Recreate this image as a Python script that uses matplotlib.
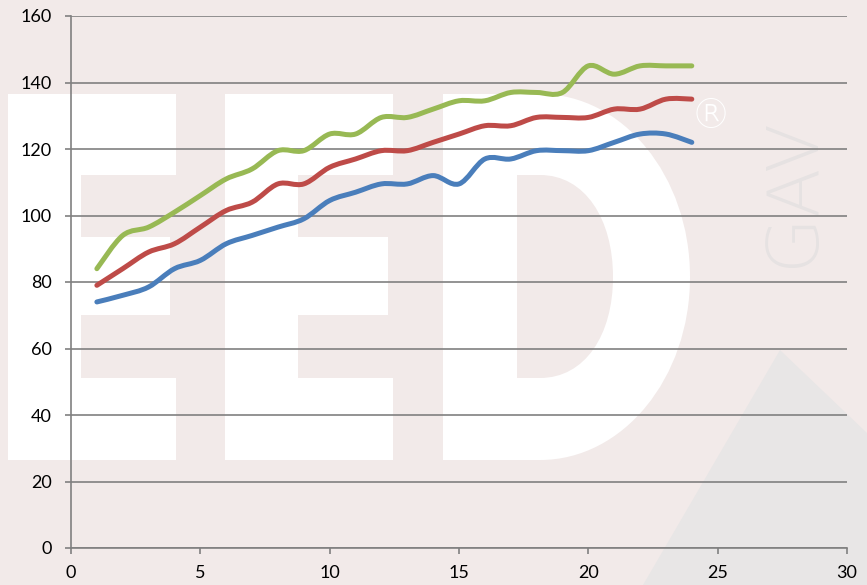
import numpy as np
import matplotlib
matplotlib.use("Agg")
import matplotlib.pyplot as plt
from matplotlib.path import Path
from matplotlib.patches import PathPatch, Rectangle, Polygon

# ---------------- data ----------------
x_vals = list(range(1, 25))
blue_vals = [74, 76, 78.5, 84, 86.5, 91.5, 94, 96.5, 99, 104.5, 107, 109.5,
             109.5, 112, 109.5, 117, 117, 119.5, 119.5, 119.5, 122, 124.5, 124.5, 122]
red_vals = [79, 84, 89, 91.5, 96.5, 101.5, 104, 109.5, 109.5, 114.5, 117, 119.5,
            119.5, 122, 124.5, 127, 127, 129.5, 129.5, 129.5, 132, 132, 135, 135]
green_vals = [84, 94, 96.5, 101, 106, 111, 114, 119.5, 119.5, 124.5, 124.5, 129.5,
              129.5, 132, 134.5, 134.5, 137, 137, 137, 145, 142.5, 145, 145, 145]
x_ticks = [0, 5, 10, 15, 20, 25, 30]
y_ticks = [0, 20, 40, 60, 80, 100, 120, 140, 160]

BG = "#F2EAE9"
W, H = 867, 585

fig = plt.figure(figsize=(W / 100, H / 100), dpi=100)
fig.patch.set_facecolor(BG)


def P(px, py):
    return (px / W, 1 - py / H)


# ---------------- watermark (decoration) ----------------
fig.patches.append(Polygon([P(780, 350), P(643, 585), P(867, 585), P(867, 433)],
                           closed=True, transform=fig.transFigure, facecolor="#E8E6E6",
                           edgecolor="none", zorder=-3))


def rect(x0, y0, x1, y1):
    (a, b), (c, d) = P(x0, y1), P(x1, y0)
    fig.patches.append(Rectangle((a, b), c - a, d - b, transform=fig.transFigure,
                                 facecolor="white", edgecolor="none", zorder=-2))


def letter_e(x0, stem, top_r, mid_r):
    rect(x0, 94, stem, 460)
    rect(x0, 94, top_r, 175)
    rect(x0, 237, mid_r, 315)
    rect(x0, 378, top_r, 460)


letter_e(8, 81, 176, 170)
letter_e(225, 298, 393, 388)

verts = [P(443, 94), P(540, 94), P(623, 94), P(690, 176), P(690, 277),
         P(690, 378), P(623, 460), P(540, 460), P(443, 460), P(443, 94),
         P(517, 175), P(517, 378), P(540, 378), P(585, 378), P(613, 335), P(613, 277),
         P(613, 219), P(585, 175), P(540, 175), P(517, 175)]
codes = [Path.MOVETO, Path.LINETO, Path.CURVE4, Path.CURVE4, Path.CURVE4,
         Path.CURVE4, Path.CURVE4, Path.CURVE4, Path.LINETO, Path.CLOSEPOLY,
         Path.MOVETO, Path.LINETO, Path.LINETO, Path.CURVE4, Path.CURVE4, Path.CURVE4,
         Path.CURVE4, Path.CURVE4, Path.CURVE4, Path.CLOSEPOLY]
fig.patches.append(PathPatch(Path(verts, codes), transform=fig.transFigure,
                             facecolor="white", edgecolor="none", zorder=-2))

rx, ry = P(711, 116)
fig.text(rx, ry, "®", color="white", fontsize=29, ha="center", va="center",
         family="DejaVu Sans", fontweight="light", zorder=-1)
gx, gy = P(794, 192)
fig.text(gx, gy, "GAV", color="#E6E2E2", fontsize=52, rotation=90,
         ha="center", va="center", family="DejaVu Sans", fontweight="light", zorder=-1)

# ---------------- axes ----------------
(l, b), (r, t) = P(71, 548), P(847, 16)
ax = fig.add_axes([l, b, r - l, t - b])
ax.set_zorder(1)
ax.set_facecolor("none")
ax.set_xlim(0, 30)
ax.set_ylim(0, 160)
ax.set_xticks(x_ticks)
ax.set_yticks(y_ticks)
ax.set_xticklabels([str(v) for v in x_ticks])
ax.set_yticklabels([str(v) for v in y_ticks])
ax.grid(axis="y", color="#808080", lw=1.2)
ax.set_axisbelow(True)
for s in ["top", "right"]:
    ax.spines[s].set_visible(False)
for s in ["left", "bottom"]:
    ax.spines[s].set_color("#808080")
    ax.spines[s].set_linewidth(1.2)
ax.tick_params(axis="both", direction="out", length=4, width=1.2, color="#808080",
               labelsize=13, labelcolor="black")
ax.tick_params(axis="y", pad=10)
ax.tick_params(axis="x", pad=8)
for lab in ax.get_xticklabels() + ax.get_yticklabels():
    lab.set_family("Lato")


def smooth_path(xs, ys):
    pts = np.column_stack([np.asarray(xs, float), np.asarray(ys, float)])
    n = len(pts)
    vs = [pts[0]]
    cs = [Path.MOVETO]
    for i in range(n - 1):
        p0 = pts[i - 1] if i > 0 else pts[i]
        p1 = pts[i]
        p2 = pts[i + 1]
        p3 = pts[i + 2] if i + 2 < n else pts[i + 1]
        vs += [p1 + (p2 - p0) / 6.0, p2 - (p3 - p1) / 6.0, p2]
        cs += [Path.CURVE4] * 3
    return Path(vs, cs)


series = [(blue_vals, "#4A7EBB"), (red_vals, "#BE4B48"), (green_vals, "#98B954")]
for vals, col in series:
    ax.add_patch(PathPatch(smooth_path(x_vals, vals), facecolor="none", edgecolor=col,
                           lw=3.6, capstyle="round", joinstyle="round", zorder=3))

fig.savefig("out.png", dpi=100, facecolor=BG)
